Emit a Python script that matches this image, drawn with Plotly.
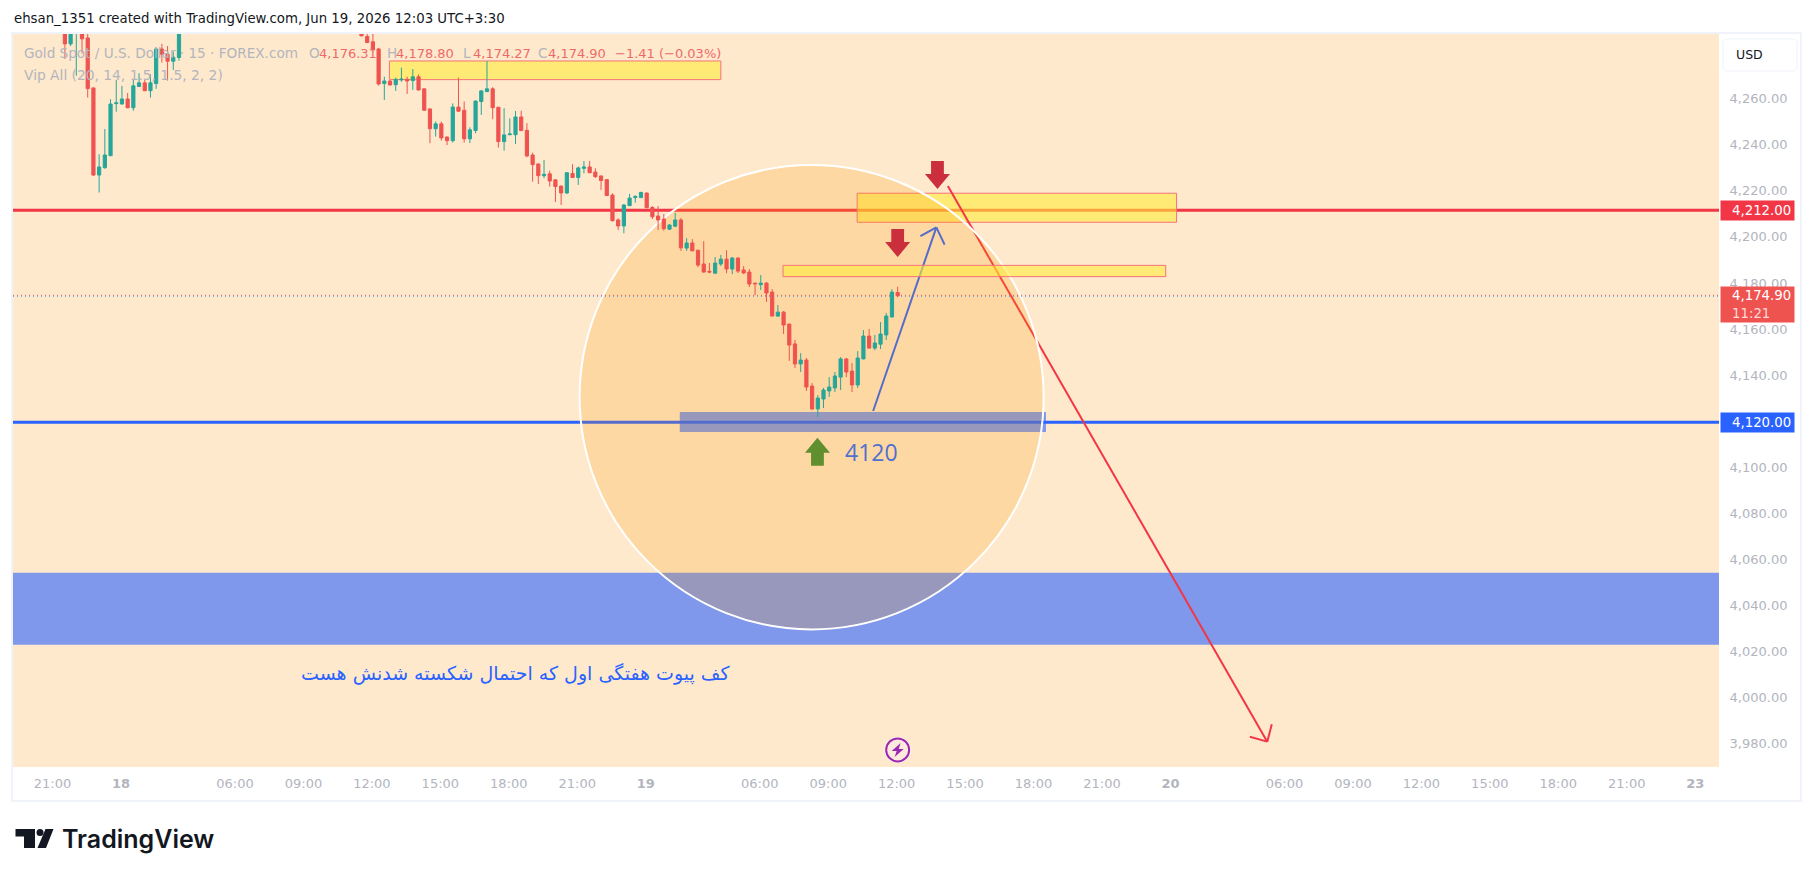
# Gold Spot / U.S. Dollar, 15 min, TradingView snapshot rebuilt with plotly
import plotly.graph_objects as go

# Bars are numbered from the last one (12:00 on the 19th = 0), so session gaps drop out
bar_index = list(range(-146, -125)) + list(range(-94, 1))

bar_open = [
    4292, 4284.2, 4291, 4291, 4286.8, 4265.1, 4227.3, 4230.5, 4235.7, 4258.3,
    4258.1, 4260.3, 4256.5, 4265.7, 4267.3, 4263.9, 4267, 4282, 4279.7, 4276.7, 4278.3,
    4288.5, 4287.4, 4285.1, 4282, 4267, 4268.1, 4266.5, 4268.6, 4268.8, 4268.3,
    4269.9, 4264.7, 4256, 4247.4, 4249.5, 4243.8, 4242.2, 4256.8, 4255.4, 4243,
    4246.6, 4259.2, 4263.5, 4264.7, 4256.7, 4241.8, 4244.8, 4244.8, 4252.5, 4246.7,
    4236, 4232.1, 4227, 4227.8, 4225.2, 4222.5, 4219.5, 4228, 4226.2, 4230.2,
    4230.8, 4228.6, 4226.9, 4225.3, 4218.6, 4207.8, 4205.2, 4214, 4217.5, 4217.5,
    4219.5, 4213.2, 4209.5, 4208.2, 4203.8, 4205.1, 4207.8, 4195.6, 4197.8, 4194.7,
    4188.7, 4185.5, 4184.7, 4188.7, 4190.8, 4186.5, 4191.3, 4186.1, 4185.2, 4180.4,
    4179.7, 4180.4, 4176.5, 4166.1, 4167.8, 4162.6, 4154, 4145.3, 4147, 4135.7,
    4125.8, 4130.1, 4133.6, 4134.9, 4139.6, 4147.5, 4142.2, 4136.2, 4147.5, 4157.4,
    4152.2, 4153.9, 4157.9, 4165.7, 4176.31,
]
bar_high = [
    4296, 4294, 4299, 4293, 4290, 4265.2, 4236.3, 4247.3, 4260.2, 4268.6,
    4266, 4262.9, 4268.6, 4271.5, 4268.6, 4271, 4282.7, 4284.2, 4283.3, 4280.9, 4292,
    4290, 4289, 4289, 4282.5, 4270, 4268.5, 4269.6, 4273.9, 4270, 4273.3,
    4271, 4264.8, 4256.2, 4250.5, 4250.5, 4244, 4258.4, 4269.6, 4259.2, 4248,
    4259.6, 4264.2, 4276.8, 4265.4, 4256.8, 4256.3, 4251.9, 4255.1, 4255.2, 4249.8,
    4237, 4232.3, 4233.8, 4229.2, 4225.4, 4222.7, 4228.5, 4232, 4231, 4233.4,
    4233.4, 4230.2, 4227, 4225.5, 4219.4, 4208.5, 4214.6, 4219.1, 4218.6, 4220.1,
    4219.7, 4213.8, 4213.8, 4210.4, 4206, 4210.9, 4208.6, 4199.9, 4199.5, 4194.8,
    4198.6, 4189.1, 4191.7, 4192.6, 4194.7, 4191.7, 4191.5, 4187.8, 4186.5, 4180.5,
    4183.9, 4180.9, 4177.8, 4170.9, 4168.3, 4162.8, 4155.7, 4150, 4147.9, 4137,
    4131.8, 4134.9, 4139.6, 4141.8, 4148.3, 4147.9, 4145.7, 4150.9, 4160, 4160.5,
    4157.9, 4163.5, 4167.4, 4177.8, 4178.8,
]
bar_low = [
    4277.7, 4283.3, 4270.4, 4280.1, 4260.9, 4226.9, 4219.7, 4230, 4235.5, 4254.8,
    4258, 4256.3, 4255.2, 4265.5, 4263.7, 4260.9, 4264.7, 4276.1, 4268.3, 4272.9, 4276.9,
    4287.5, 4284.5, 4281.4, 4266.1, 4259.9, 4266.1, 4263.8, 4267.8, 4262.5, 4264.2,
    4264, 4255.1, 4241.1, 4244, 4242.2, 4240.3, 4241.4, 4254.8, 4241.4, 4241.2,
    4245.4, 4253.4, 4263.4, 4251.5, 4239.2, 4237.9, 4244.6, 4240.8, 4246.4, 4235,
    4224.4, 4223.4, 4225.9, 4222.3, 4215.6, 4214.3, 4219.1, 4226, 4223, 4228,
    4228.1, 4226, 4220.8, 4218.2, 4207.1, 4203.4, 4202, 4213.9, 4215.3, 4217.4,
    4212.9, 4208.2, 4203.4, 4203.1, 4203.4, 4204.7, 4194.4, 4194.4, 4194.2, 4187.3,
    4184.9, 4184.7, 4184.5, 4187.8, 4184.7, 4184.3, 4184.7, 4184.3, 4178.7, 4175.2,
    4177.4, 4172.2, 4166, 4165.7, 4158.3, 4146.6, 4143.5, 4141.8, 4133.6, 4125.3,
    4122.3, 4126.2, 4131, 4133.1, 4134, 4139.6, 4133.1, 4134.9, 4147.3, 4152,
    4151.3, 4151.8, 4155.7, 4165.5, 4174.27,
]
bar_close = [
    4284.2, 4292, 4297, 4286.4, 4264.8, 4227.3, 4230.8, 4236, 4258.1, 4258.6,
    4260.3, 4256.5, 4266, 4267.3, 4263.9, 4267.3, 4282, 4279.7, 4276.7, 4278.4, 4290,
    4287.7, 4284.8, 4281.6, 4266.8, 4268.1, 4266.4, 4268.8, 4268.9, 4268.1, 4269.9,
    4264.2, 4255.4, 4247.4, 4249.5, 4243.4, 4242.2, 4256.8, 4255, 4243, 4246.9,
    4259.4, 4263.8, 4264.7, 4256.5, 4241.8, 4244.7, 4245.1, 4252.5, 4246.6, 4235.6,
    4231.8, 4227, 4227.6, 4224.7, 4222.3, 4219.5, 4228.3, 4226.2, 4230.4, 4230.8,
    4228.3, 4226.6, 4224.9, 4218.4, 4207.5, 4205.2, 4214.3, 4217.3, 4217.9, 4219.7,
    4213.1, 4209.2, 4207.8, 4204, 4205.6, 4207.8, 4195.7, 4197.8, 4194.4, 4188.2,
    4185.2, 4185.2, 4189.1, 4190.8, 4186.5, 4191.3, 4185.6, 4184.8, 4180, 4180.1,
    4180.4, 4176.1, 4166.1, 4167.8, 4162.2, 4153.5, 4145.3, 4147, 4135.3, 4125.8,
    4130.5, 4134, 4135.3, 4140.1, 4147.5, 4141.8, 4136.2, 4147.9, 4157.4, 4152.2,
    4154.4, 4158.3, 4166.1, 4176.5, 4174.9,
]

# Axis ticks (4,120 is covered by its price box, so it is left out)
time_ticks = [-148, -136, -116, -104, -92, -80, -68, -56, -44, -24, -12, 0,
              12, 24, 36, 48, 68, 80, 92, 104, 116, 128, 140]
time_labels = ["21:00", "<b>18</b>", "06:00", "09:00", "12:00", "15:00", "18:00", "21:00",
               "<b>19</b>", "06:00", "09:00", "12:00", "15:00", "18:00", "21:00",
               "<b>20</b>", "06:00", "09:00", "12:00", "15:00", "18:00", "21:00", "<b>23</b>"]
price_ticks = [3980, 4000, 4020, 4040, 4060, 4080, 4100, 4140, 4160, 4180,
               4200, 4220, 4240, 4260]

# Levels
resistance_level = 4212
support_level = 4120
last_price = 4174.9

# Drawings, in bar number / price
top_zone = [-89.1, -31, 4268.7, 4276.8]
big_zone = [-7.1, 48.9, 4206.8, 4219.4]
thin_zone = [-20.1, 47, 4183.2, 4188.1]
support_zone = [-38.2, 26, 4115.8, 4124.5]
pivot_band = [4023.5, 4054.7]
focus_circle = [-55.76, 25.6, 4030.1, 4231.66]

BG = "#FEE9CC"
RED = "#F23645"
BLUE = "#2962FF"
GREY = "#B2B5BE"
ZONE_FILL = "rgba(255,235,59,0.6)"
ZONE_LINE = "#F4737A"
FONT = "DejaVu Sans"
X_RANGE = [-155.1, 144]
Y_RANGE = [3970.4, 4288.5]

# Page pixel -> paper fraction (plot runs 13..1719 and 34..767 on the page)
def paper_x(px):
    return (px - 13) / 1706

def paper_y(py):
    return (767 - py) / 733

fig = go.Figure()

fig.add_trace(go.Candlestick(
    x=bar_index,
    open=bar_open,
    high=bar_high,
    low=bar_low,
    close=bar_close,
    increasing={"line": {"color": "#26A69A", "width": 1}, "fillcolor": "#26A69A"},
    decreasing={"line": {"color": "#EF5350", "width": 1}, "fillcolor": "#EF5350"},
    whiskerwidth=0,
    hoverinfo="skip",
))

# Zones and lines, oldest drawing first
def zone(box, fill, line=None):
    fig.add_shape(type="rect", x0=box[0], x1=box[1], y0=box[2], y1=box[3], layer="below",
                  fillcolor=fill, line={"color": line or "rgba(0,0,0,0)", "width": 1})

def segment(x0, y0, x1, y1, color, width=2, dash="solid"):
    fig.add_shape(type="line", x0=x0, y0=y0, x1=x1, y1=y1, layer="below",
                  line={"color": color, "width": width, "dash": dash})

segment(X_RANGE[0], resistance_level, X_RANGE[1], resistance_level, RED, 3)
segment(X_RANGE[0], support_level, X_RANGE[1], support_level, BLUE, 3)
zone(big_zone, ZONE_FILL, ZONE_LINE)
zone([X_RANGE[0], X_RANGE[1], pivot_band[0], pivot_band[1]], "rgba(41,98,255,0.6)")
zone(support_zone, "rgba(41,98,255,0.6)")

# Blue arrow up
segment(-4.3, 4124.9, 6.79, 4204.6, BLUE, 2)
segment(3.98, 4200.8, 6.79, 4204.6, BLUE, 2)
segment(8.23, 4197.1, 6.79, 4204.6, BLUE, 2)
# Red arrow down
segment(8.8, 4222.5, 64.8, 3981.4, RED, 2)
segment(61.74, 3983.5, 64.8, 3981.4, RED, 2)
segment(65.6, 3989, 64.8, 3981.4, RED, 2)

fig.add_shape(type="circle", x0=focus_circle[0], x1=focus_circle[1],
              y0=focus_circle[2], y1=focus_circle[3], layer="below",
              fillcolor="rgba(255,152,0,0.2)", line={"color": "#FFFFFF", "width": 2})

zone(top_zone, ZONE_FILL, ZONE_LINE)
zone(thin_zone, ZONE_FILL, ZONE_LINE)

# Last price dotted line (red over blue)
segment(X_RANGE[0], last_price + 0.2, X_RANGE[1], last_price + 0.2, "#EF5350", 1, "1px,3px")
segment(X_RANGE[0], last_price - 0.2, X_RANGE[1], last_price - 0.2, "#4C8DF0", 1, "1px,3px")

# Fat arrows, tip sits on the anchor, path in pixels
def fat_arrow(idx, price, color, sign):
    pts = [(0, 0), (12.5, 15), (6.4, 15), (6.4, 28), (-6.4, 28), (-6.4, 15), (-12.5, 15)]
    path = "M" + " L".join(f"{a},{sign * b}" for a, b in pts) + " Z"
    fig.add_shape(type="path", path=path, xsizemode="pixel", ysizemode="pixel",
                  xanchor=idx, yanchor=price, xref="x", yref="y",
                  fillcolor=color, line={"width": 0})

fat_arrow(6.98, 4221.2, "#CC2F3C", 1)
fat_arrow(0, 4191.7, "#CC2F3C", 1)
fat_arrow(-14.06, 4113.3, "#5F8F2E", -1)

# Lightning mark on the last bar
fig.add_shape(type="circle", xsizemode="pixel", ysizemode="pixel", xanchor=0, yanchor=3977.8,
              x0=-13, x1=13, y0=-13, y1=13, fillcolor="#FFFFFF", line={"width": 0})
fig.add_shape(type="circle", xsizemode="pixel", ysizemode="pixel", xanchor=0, yanchor=3977.8,
              x0=-11.5, x1=11.5, y0=-11.5, y1=11.5, fillcolor="#FCEBDD",
              line={"color": "#9C27B0", "width": 2})
fig.add_shape(type="path", xsizemode="pixel", ysizemode="pixel", xanchor=0, yanchor=3977.8,
              path="M3,7 L-6,-1 L-1,-1 L-3,-7 L6,1 L1,1 Z", fillcolor="#9C27B0", line={"width": 0})

# Frame round the whole chart widget
fig.add_shape(type="rect", xref="paper", yref="paper", layer="below",
              x0=paper_x(12), x1=paper_x(1801), y0=paper_y(801), y1=paper_y(33),
              line={"color": "#F0F3FA", "width": 2}, fillcolor="rgba(0,0,0,0)")

# USD button
def rounded_box(x0, y0, x1, y1, r):
    a, b, c, d = paper_x(x0), paper_x(x0 + r), paper_x(x1 - r), paper_x(x1)
    e, f, g, h = paper_y(y0), paper_y(y0 + r), paper_y(y1 - r), paper_y(y1)
    return (f"M{b},{e} L{c},{e} Q{d},{e} {d},{f} L{d},{g} Q{d},{h} {c},{h} "
            f"L{b},{h} Q{a},{h} {a},{g} L{a},{f} Q{a},{e} {b},{e} Z")

fig.add_shape(type="path", xref="paper", yref="paper", path=rounded_box(1723, 39, 1797, 71, 5),
              fillcolor="#FFFFFF", line={"color": "#F0F3FA", "width": 1})

# TradingView logo
fig.add_shape(type="path", xref="paper", yref="paper", fillcolor="#131722", line={"width": 0},
              path=f"M{paper_x(15.5)},{paper_y(829)} L{paper_x(35)},{paper_y(829)} "
                   f"L{paper_x(35)},{paper_y(848)} L{paper_x(24)},{paper_y(848)} "
                   f"L{paper_x(24)},{paper_y(836.5)} L{paper_x(15.5)},{paper_y(836.5)} Z")
fig.add_shape(type="circle", xref="paper", yref="paper", fillcolor="#131722", line={"width": 0},
              x0=paper_x(36.5), x1=paper_x(43.5), y0=paper_y(836), y1=paper_y(829))
fig.add_shape(type="path", xref="paper", yref="paper", fillcolor="#131722", line={"width": 0},
              path=f"M{paper_x(45.5)},{paper_y(829)} L{paper_x(53.5)},{paper_y(829)} "
                   f"L{paper_x(46)},{paper_y(848)} L{paper_x(37.5)},{paper_y(848)} Z")

# Price boxes on the right scale, text goes on top of them below
def price_box(price, color, height):
    fig.add_annotation(xref="paper", yref="y", x=paper_x(1720), y=price, text=" ",
                       showarrow=False, xanchor="left", yanchor="middle",
                       width=73, height=height, bgcolor=color, borderpad=0)

price_box(resistance_level, RED, 19)
price_box(support_level, BLUE, 19)
price_box(last_price - 3.66, "#EF5350", 35)

# Texts in page pixels
def label(px, py, text, color, size, anchor="left", family=FONT, weight=None):
    fig.add_annotation(xref="paper", yref="paper", x=paper_x(px), y=paper_y(py), text=text,
                       showarrow=False, xanchor=anchor, yanchor="middle", borderpad=0,
                       font={"family": family, "size": size, "color": color,
                             "weight": weight or "normal"})

PRICE_RED = "#F0696A"
label(13, 19, "ehsan_1351 created with TradingView.com, Jun 19, 2026 12:03 UTC+3:30", "#131722", 13.3)

# Legend pieces sit at their own x, the digits are narrower than the names
label(23, 53, "Gold Spot / U.S. Dollar · 15 · FOREX.com", GREY, 13.6)
label(308, 53, "O", GREY, 13.6)
label(318, 53, "4,176.31", PRICE_RED, 13)
label(386, 53, "H", GREY, 13.6)
label(395, 53, "4,178.80", PRICE_RED, 13)
label(462, 53, "L", GREY, 13.6)
label(472, 53, "4,174.27", PRICE_RED, 13)
label(537, 53, "C", GREY, 13.6)
label(547, 53, "4,174.90", PRICE_RED, 13)
label(614, 53, "−1.41 (−0.03%)", PRICE_RED, 13)
label(23, 75, "Vip All (20, 14, 1.5, 1.5, 2, 2)", GREY, 13.8)

label(1735, 55, "USD", "#131722", 12.5)
label(844, 452, "4120", "#5070D0", 23, family="Open Sans")
label(732, 673, "کف پیوت هفتگی اول که احتمال شکسته شدنش هست", BLUE, 19, anchor="right")
label(61, 839, "TradingView", "#131722", 25, family="Inter", weight=600)

label(1731, 210, "4,212.00", "#FFFFFF", 13.3)
label(1731, 295, "4,174.90", "#FFFFFF", 13.3)
label(1731, 313, "11:21", "#FFD9D9", 13.3)
label(1731, 422, "4,120.00", "#FFFFFF", 13.3)

fig.update_layout(
    autosize=False,
    width=1798,
    height=861,
    margin={"l": 5, "r": 87, "t": 26, "b": 102},
    paper_bgcolor="#FFFFFF",
    plot_bgcolor=BG,
    showlegend=False,
    boxgap=0.2,
    xaxis={
        "range": X_RANGE, "rangeslider": {"visible": False}, "tickmode": "array",
        "tickvals": time_ticks, "ticktext": time_labels, "showgrid": False, "zeroline": False,
        "showline": False, "ticks": "outside", "ticklen": 4, "tickcolor": "rgba(0,0,0,0)",
        "ticklabelshift": -1,
        "tickfont": {"family": FONT, "size": 13, "color": GREY},
    },
    yaxis={
        "range": Y_RANGE, "side": "right", "tickmode": "array", "tickvals": price_ticks,
        "tickformat": ",.2f", "showgrid": False, "zeroline": False, "showline": False,
        "ticks": "outside", "ticklen": 7, "tickcolor": "rgba(0,0,0,0)",
        "ticklabelshift": -1,
        "tickfont": {"family": FONT, "size": 13, "color": GREY},
    },
)

fig.write_html("out.html", config={"displayModeBar": False})
